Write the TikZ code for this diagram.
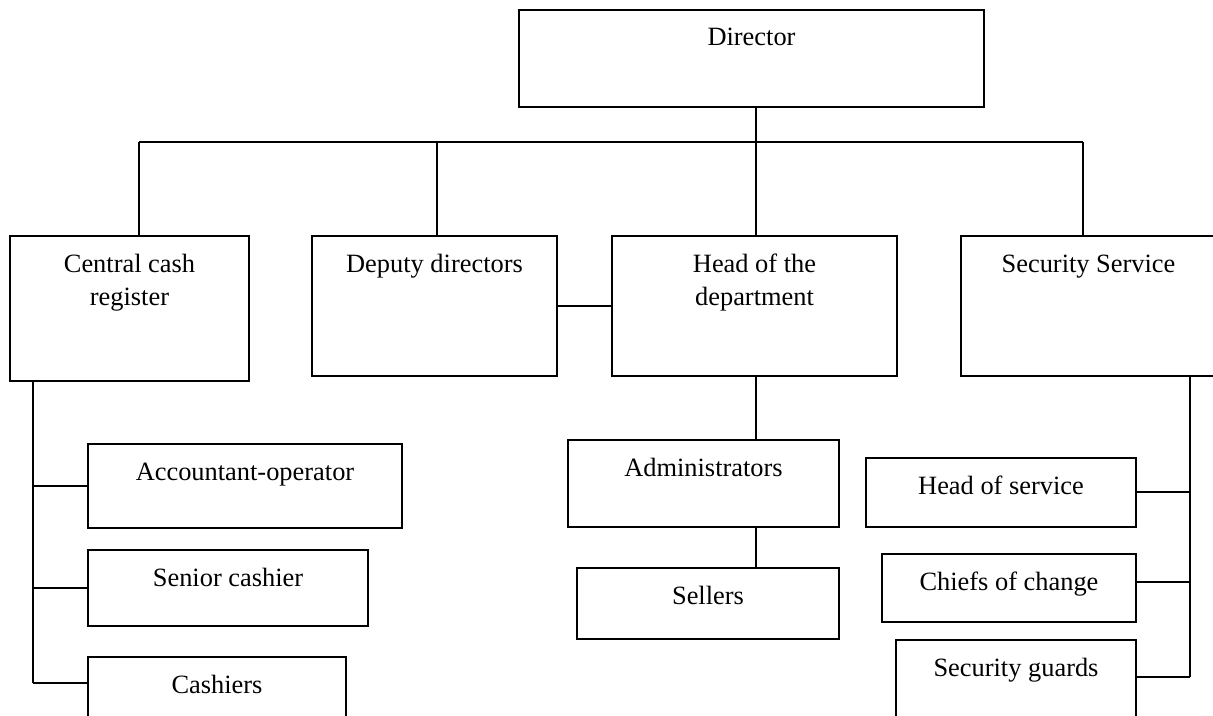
\documentclass[tikz,border=0pt]{standalone}
\usepackage{fontspec}
\setmainfont{Liberation Serif}
\usetikzlibrary{positioning}

\begin{document}
\begin{tikzpicture}[
    x=0.5pt, y=-0.5pt,
    font=\fontsize{13.2}{17}\selectfont,
    orgbox/.style={draw, line width=0.9pt, inner sep=0pt, outer sep=0pt,
                   anchor=north west, align=center, text height=18pt},
    wire/.style={line width=0.6pt}
  ]
    \useasboundingbox (0,0) rectangle (1213,716);

    \node[orgbox, minimum width=232.5pt, text depth=30.5pt] (dir) at (519,10) {Director};

    \node[orgbox, minimum width=119.5pt, text height=35pt, text depth=37.5pt] (ccr) at (10,236) {Central cash\\register};
    \node[orgbox, minimum width=122.5pt, text depth=52pt]   (dep) at (312,236) {Deputy directors};
    \node[orgbox, minimum width=142.5pt, text height=35pt, text depth=35pt]   (hod) at (612,236) {Head of the\\department};
    \node[orgbox, minimum width=127.5pt, text depth=52pt]   (sec) at (961,236) {Security Service};

    \node[orgbox, minimum width=157pt, text depth=24pt]     (acc) at (88,444) {Accountant-operator};
    \node[orgbox, minimum width=140pt, text depth=20pt]     (sen) at (88,550) {Senior cashier};
    \node[orgbox, minimum width=129pt, text depth=23.5pt]   (csh) at (88,657) {Cashiers};

    \node[orgbox, minimum width=135.5pt, text depth=25.5pt] (adm) at (568,440) {Administrators};
    \node[orgbox, minimum width=131pt, text depth=17.5pt]   (sel) at (577,568) {Sellers};

    \node[orgbox, minimum width=135pt, text depth=16.5pt]   (hos) at (866,458) {Head of service};
    \node[orgbox, minimum width=127pt, text depth=16pt]     (chf) at (882,554) {Chiefs of change};
    \node[orgbox, minimum width=120pt, text depth=32pt]     (grd) at (896,640) {Security guards};

    \coordinate (bus)  at (756,142);
    \coordinate (busL) at (139,142);
    \coordinate (busD) at (437,142);
    \coordinate (busR) at (1083,142);
    \coordinate (ccrB) at (33,683);
    \coordinate (hosJ) at (1190,492);
    \coordinate (chfJ) at (1190,582);
    \coordinate (secB) at (1190,677);

    \draw[wire] (bus |- dir.south) -- (bus);
    \draw[wire] (busL) -- (busR);
    \draw[wire] (busL) -- (busL |- ccr.north);
    \draw[wire] (busD) -- (busD |- dep.north);
    \draw[wire] (bus) -- (bus |- hod.north);
    \draw[wire] (busR) -- (busR |- sec.north);
    \draw[wire] (dep.east) -- (hod.west);

    \draw[wire] (ccrB |- ccr.south) -- (ccrB);
    \draw[wire] (ccrB |- acc.west) -- (acc.west);
    \draw[wire] (ccrB |- sen.west) -- (sen.west);
    \draw[wire] (ccrB) -- (ccrB -| csh.west);

    \draw[wire] (bus |- hod.south) -- (bus |- adm.north);
    \draw[wire] (bus |- adm.south) -- (bus |- sel.north);

    \draw[wire] (secB |- sec.south) -- (secB);
    \draw[wire] (hosJ) -- (hosJ -| hos.east);
    \draw[wire] (chfJ) -- (chfJ -| chf.east);
    \draw[wire] (secB) -- (secB -| grd.east);
  \end{tikzpicture}
\end{document}
